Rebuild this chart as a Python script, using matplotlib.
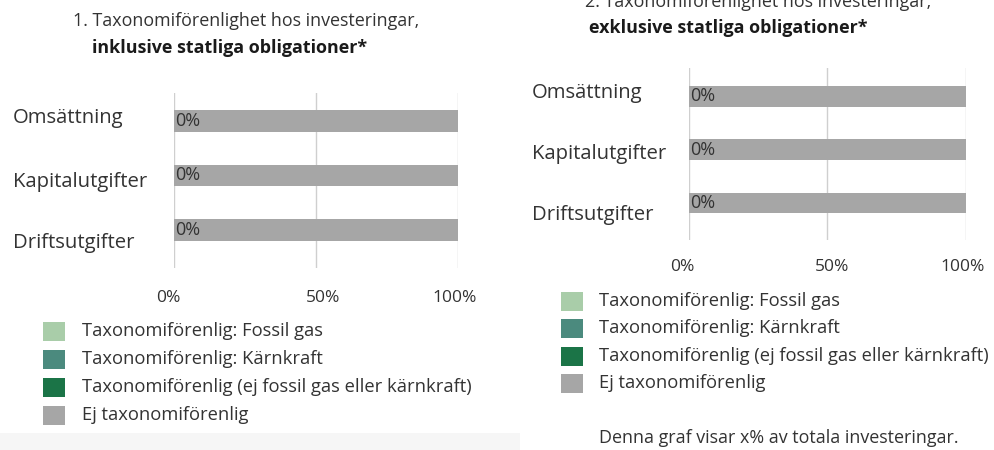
import matplotlib
matplotlib.use("Agg")
import matplotlib.pyplot as plt
import matplotlib.transforms as mtransforms
from matplotlib.patches import Rectangle

plt.rcParams['font.family'] = ['Open Sans', 'DejaVu Sans']

categories = ["Omsättning", "Kapitalutgifter", "Driftsutgifter"]
series_names = [
    "Taxonomiförenlig: Fossil gas",
    "Taxonomiförenlig: Kärnkraft",
    "Taxonomiförenlig (ej fossil gas eller kärnkraft)",
    "Ej taxonomiförenlig",
]
colors = ["#a9cda9", "#4b8a7e", "#1b7447", "#a6a6a6"]

# chart 1: inklusive statliga obligationer
inc_fossil = [0, 0, 0]
inc_nuclear = [0, 0, 0]
inc_aligned = [0, 0, 0]
inc_not = [100, 100, 100]

# chart 2: exklusive statliga obligationer
exc_fossil = [0, 0, 0]
exc_nuclear = [0, 0, 0]
exc_aligned = [0, 0, 0]
exc_not = [100, 100, 100]

xticks = [0, 50, 100]
xticklabels = ["0%", "50%", "100%"]

W, H = 995, 450
fig = plt.figure(figsize=(W / 100, H / 100), dpi=100)
fig.patch.set_facecolor("white")
TXT = "#333333"


def fx(px):
    return px / W


def fy(py):
    return 1 - py / H


# faint bottom band (scan artefact)
fig.patches.append(Rectangle((0, 0), fx(520), fy(433), transform=fig.transFigure,
                             facecolor="#f6f6f6", edgecolor="none", zorder=-10))


def panel(x0, x1, ytop, ybot, ylim, series, label_x, label_dy, bar_h, title1, title2,
          t1xy, t2xy, tick_pad, tick_dx, leg_sq_x, leg_txt_x, leg_y):
    ax = fig.add_axes([fx(x0), fy(ybot), fx(x1) - fx(x0), fy(ytop) - fy(ybot)])
    ypos = list(range(len(categories)))
    left = [0] * len(categories)
    for vals, c in zip(series, colors):
        ax.barh(ypos, vals, left=left, height=bar_h, color=c, edgecolor="none", zorder=2)
        left = [l + v for l, v in zip(left, vals)]
    aligned = series[2]
    for i, v in enumerate(aligned):
        ax.text(0.5, ypos[i], f"{v}%", ha="left", va="center", fontsize=13,
                color=TXT, zorder=3)
    ax.set_xlim(0, 100)
    ax.set_ylim(*ylim)
    ax.set_xticks(xticks)
    ax.set_xticklabels(xticklabels, fontsize=12.5, color=TXT)
    ax.tick_params(axis="x", length=0, pad=tick_pad)
    for lab, dx in zip(ax.get_xticklabels(), tick_dx):
        lab.set_transform(lab.get_transform() + mtransforms.ScaledTranslation(dx / 100, 0, fig.dpi_scale_trans))
    ax.set_yticks([])
    for s in ax.spines.values():
        s.set_visible(False)
    ax.grid(axis="x", color="#cfcfcf", linewidth=1, zorder=0)
    ax.set_axisbelow(True)
    tr = mtransforms.blended_transform_factory(fig.transFigure, ax.transData)
    for i, cat in enumerate(categories):
        off = mtransforms.ScaledTranslation(0, -label_dy[i] / 100, fig.dpi_scale_trans)
        ax.text(fx(label_x), ypos[i], cat, transform=tr + off, ha="left", va="center",
                fontsize=14.6, color=TXT, clip_on=False)
    fig.text(fx(t1xy[0]), fy(t1xy[1]), title1, ha="left", va="baseline", fontsize=12.9, color=TXT)
    fig.text(fx(t2xy[0]), fy(t2xy[1]), title2, ha="left", va="baseline", fontsize=12.9,
             color="#1a1a1a", fontweight="bold")
    for name, c, yc in zip(series_names, colors, leg_y):
        fig.patches.append(Rectangle((fx(leg_sq_x), fy(yc + 9.5)), fx(22), 19 / H,
                                     transform=fig.transFigure, facecolor=c, edgecolor="none"))
        fig.text(fx(leg_txt_x), fy(yc), name, ha="left", va="center", fontsize=13.2, color=TXT)
    return ax


panel(174, 458, 93, 268, (2.70, -0.514), [inc_fossil, inc_nuclear, inc_aligned, inc_not],
      13, [-3, 6.5, 13], 0.40,
      "1. Taxonomiförenlighet hos investeringar,", "inklusive statliga obligationer*",
      (73, 26), (92, 53), 15.5, [-6, 7, -3], 43, 82, [331, 359, 387, 415])

panel(689, 966, 68, 240, (2.695, -0.535), [exc_fossil, exc_nuclear, exc_aligned, exc_not],
      532, [-3.5, 4.5, 12], 0.39,
      "2. Taxonomiförenlighet hos investeringar,", "exklusive statliga obligationer*",
      (585, 7), (589, 33), 14, [-7, 5, -3], 561, 599, [301, 328, 356, 383])

fig.text(fx(599), fy(438), "Denna graf visar x% av totala investeringar.", ha="left",
         va="center", fontsize=12.9, color=TXT)

fig.savefig("out.png", dpi=100, facecolor="white")
